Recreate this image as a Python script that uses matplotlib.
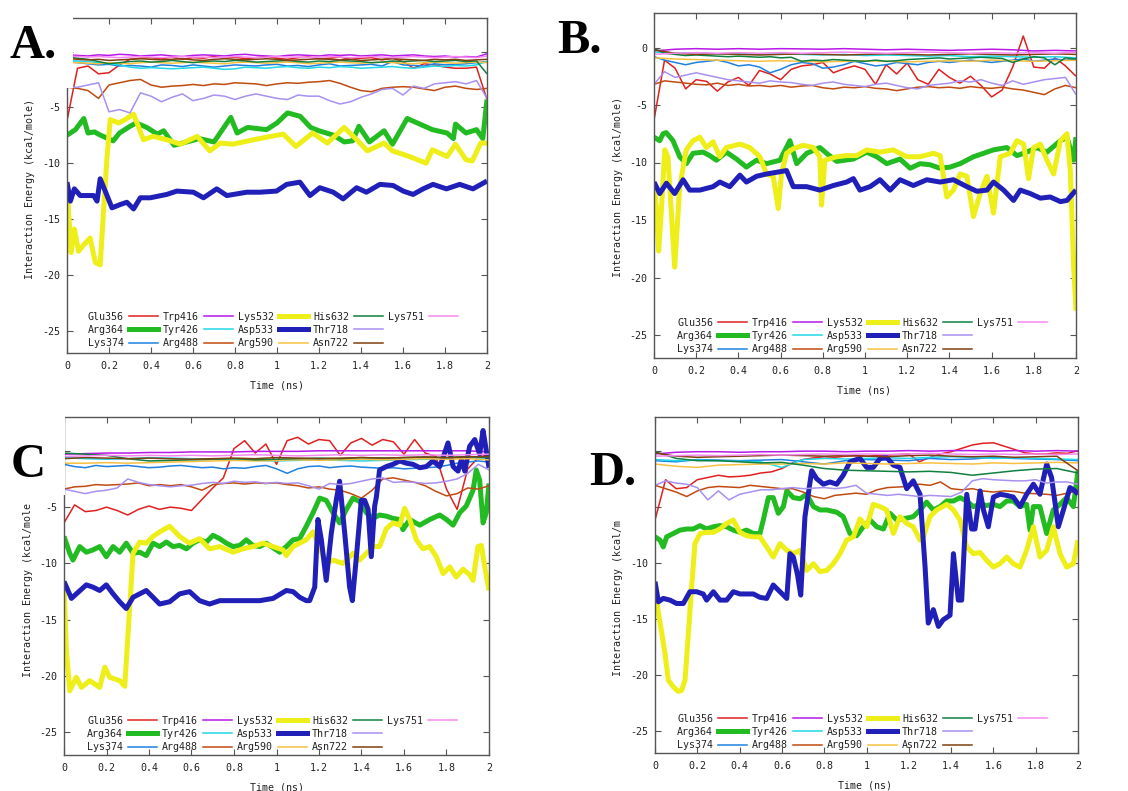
import numpy as np
import matplotlib
matplotlib.use('Agg')
import matplotlib.pyplot as plt
from matplotlib.lines import Line2D
from matplotlib.patches import Rectangle
from matplotlib.ticker import FixedLocator, FormatStrFormatter, FixedFormatter

plt.rcParams['axes.unicode_minus'] = False

# ---------------- series definitions ----------------
residues = ['Glu356', 'Arg364', 'Lys374', 'Trp416', 'Tyr426', 'Arg488', 'Lys532',
            'Asp533', 'Arg590', 'His632', 'Thr718', 'Asn722', 'Lys751']
colors = ['#e02020', '#22bb22', '#2080e0', '#b818e8', '#20d8e8', '#c04a10', '#eeee18',
          '#2020b8', '#f8c040', '#108040', '#a890f0', '#804010', '#f888f0']
thick = ['Arg364', 'Lys532', 'Asp533']

x_ticks = [0, 0.2, 0.4, 0.6, 0.8, 1.0, 1.2, 1.4, 1.6, 1.8, 2.0]
y_ticks = [-25, -20, -15, -10, -5, 0]

# ---------------- Panel A ----------------
A_Glu356 = [-6.2, -1.5, -1.3, -2.0, -1.9, -1.2, -0.7, -0.6, -0.55, -0.65, -0.5, -0.7, -0.55, -0.6, -0.45, -0.6, -0.5, -0.65, -0.55, -0.45, -0.6, -0.7, -0.55, -0.5, -0.65, -0.6, -0.5, -0.7, -0.6, -0.55, -0.75, -0.6, -0.9, -1.5, -1.1, -1.2, -1.4, -1.5, -1.5, -1.4, -4.3]
A_Arg364_t = [0, 0.04, 0.08, 0.10, 0.13, 0.16, 0.22, 0.25, 0.30, 0.33, 0.38, 0.43, 0.46, 0.51, 0.57, 0.63, 0.70, 0.78, 0.81, 0.86, 0.95, 1.00, 1.05, 1.11, 1.16, 1.20, 1.27, 1.32, 1.36, 1.39, 1.44, 1.51, 1.55, 1.62, 1.68, 1.74, 1.81, 1.84, 1.85, 1.90, 1.95, 1.98, 2.0]
A_Arg364 = [-7.5, -7.0, -6.0, -7.3, -7.2, -7.5, -8.0, -7.3, -6.7, -6.4, -6.8, -7.4, -7.1, -8.4, -8.1, -7.8, -8.1, -5.9, -7.3, -6.8, -7.0, -6.4, -5.5, -5.8, -6.8, -7.1, -7.5, -8.1, -8.0, -6.7, -8.1, -7.1, -8.3, -6.0, -6.5, -7.0, -7.3, -7.8, -6.5, -7.3, -7.0, -7.8, -4.3]
A_Lys374 = [-0.9, -1.0, -1.1, -1.2, -1.15, -1.3, -1.25, -1.3, -1.4, -1.2, -1.25, -1.35, -1.2, -1.3, -1.4, -1.3, -1.2, -1.25, -1.3, -1.2, -1.15, -1.3, -1.25, -1.35, -1.2, -1.1, -1.3, -1.25, -1.2, -1.15, -1.3, -0.9, -1.2, -1.25, -1.3, -1.1, -1.2, -1.15, -1.1, -1.0, -0.9]
A_Trp416 = [-0.3, -0.35, -0.4, -0.3, -0.35, -0.25, -0.3, -0.4, -0.35, -0.3, -0.4, -0.45, -0.35, -0.3, -0.35, -0.4, -0.3, -0.25, -0.35, -0.4, -0.45, -0.35, -0.3, -0.35, -0.4, -0.3, -0.35, -0.3, -0.4, -0.35, -0.3, -0.4, -0.35, -0.3, -0.4, -0.45, -0.4, -0.5, -0.45, -0.5, -0.2]
A_Tyr426 = [-0.8, -0.85, -0.9, -1.0, -1.1, -1.2, -1.4, -1.5, -1.45, -1.5, -1.55, -1.5, -1.45, -1.4, -1.5, -1.6, -1.55, -1.4, -1.45, -1.5, -1.4, -1.35, -1.45, -1.5, -1.4, -1.45, -1.35, -1.4, -1.5, -1.45, -1.4, -1.35, -1.45, -1.5, -1.4, -1.3, -1.35, -1.25, -1.3, -1.2, -0.9]
A_Arg488 = [-3.2, -3.3, -3.5, -4.2, -3.0, -2.8, -2.6, -2.5, -3.0, -3.2, -3.1, -3.05, -2.95, -3.05, -2.9, -2.95, -2.8, -2.85, -2.9, -3.05, -2.9, -2.8, -2.85, -2.75, -2.7, -2.6, -2.85, -3.2, -3.5, -3.6, -3.3, -3.2, -3.15, -3.2, -3.35, -3.5, -3.2, -3.1, -3.3, -3.4, -3.3]
A_Lys532_t = [0, 0.019, 0.035, 0.055, 0.08, 0.11, 0.135, 0.158, 0.19, 0.206, 0.246, 0.277, 0.317, 0.364, 0.41, 0.475, 0.54, 0.62, 0.68, 0.73, 0.79, 0.89, 0.97, 1.03, 1.09, 1.17, 1.24, 1.32, 1.38, 1.43, 1.51, 1.55, 1.63, 1.71, 1.74, 1.81, 1.85, 1.90, 1.93, 1.97, 2.0]
A_Lys532 = [-12.0, -18.0, -15.9, -17.9, -17.3, -16.7, -18.9, -19.1, -9.6, -6.1, -6.4, -6.1, -5.6, -7.9, -7.6, -7.9, -8.3, -7.6, -8.9, -8.2, -8.3, -7.9, -7.6, -7.4, -8.5, -7.3, -8.2, -6.8, -7.9, -8.9, -8.2, -8.9, -9.4, -10.0, -8.8, -9.4, -8.3, -9.7, -9.8, -8.2, -8.2]
A_Asp533_t = [0, 0.016, 0.035, 0.063, 0.127, 0.143, 0.158, 0.182, 0.214, 0.254, 0.285, 0.317, 0.349, 0.396, 0.475, 0.523, 0.602, 0.650, 0.713, 0.761, 0.856, 0.919, 0.998, 1.046, 1.109, 1.157, 1.204, 1.268, 1.315, 1.379, 1.426, 1.490, 1.553, 1.601, 1.648, 1.696, 1.743, 1.807, 1.870, 1.933, 2.0]
A_Asp533 = [-11.7, -13.4, -12.3, -12.9, -12.9, -13.4, -11.4, -12.5, -14.0, -13.7, -13.5, -14.1, -13.1, -13.1, -12.8, -12.5, -12.6, -13.1, -12.3, -12.9, -12.6, -12.6, -12.5, -11.9, -11.7, -12.9, -12.2, -12.6, -13.2, -12.2, -12.6, -11.9, -12.0, -12.5, -12.8, -12.3, -11.9, -12.3, -11.9, -12.3, -11.6]
A_Arg590 = [-1.0, -1.0, -1.05, -1.1, -1.0, -1.05, -1.1, -1.0, -0.95, -1.0, -1.05, -1.0, -0.95, -1.0, -1.05, -1.1, -1.0, -0.95, -1.0, -1.05, -1.0, -0.95, -1.0, -1.1, -1.05, -1.0, -0.95, -1.0, -1.05, -1.0, -0.95, -1.0, -1.05, -1.1, -1.0, -0.95, -1.0, -1.05, -1.0, -0.95, -1.0]
A_His632 = [-0.5, -0.6, -0.7, -0.9, -1.1, -1.0, -0.9, -0.85, -0.95, -0.9, -0.8, -0.9, -1.0, -0.9, -0.85, -0.9, -0.8, -0.85, -0.95, -0.9, -0.85, -0.8, -0.9, -0.95, -0.85, -0.9, -0.8, -0.85, -0.9, -1.0, -0.95, -0.85, -0.9, -0.85, -0.8, -0.9, -0.85, -0.8, -0.9, -0.85, -2.0]
A_Thr718 = [-3.2, -3.2, -3.0, -2.8, -5.4, -5.2, -5.5, -3.7, -4.0, -4.5, -4.1, -3.8, -4.4, -4.2, -3.9, -4.0, -4.3, -4.0, -3.8, -4.0, -4.2, -4.3, -3.9, -4.0, -4.0, -4.4, -4.7, -4.5, -4.1, -3.8, -3.4, -3.3, -3.9, -3.1, -3.3, -2.9, -2.8, -2.7, -2.9, -2.6, -4.2]
A_Asn722 = [-0.6, -0.7, -0.75, -0.7, -0.8, -0.75, -0.7, -0.65, -0.7, -0.75, -0.7, -0.65, -0.75, -0.8, -0.7, -0.65, -0.7, -0.75, -0.7, -0.65, -0.7, -0.8, -0.75, -0.7, -0.65, -0.7, -0.75, -0.7, -0.8, -0.75, -0.7, -0.65, -0.7, -0.75, -0.8, -0.7, -0.75, -0.7, -0.8, -0.75, -0.7]
A_Lys751 = [-0.4, -0.45, -0.5, -0.45, -0.5, -0.55, -0.5, -0.45, -0.5, -0.55, -0.5, -0.45, -0.5, -0.5, -0.55, -0.5, -0.45, -0.5, -0.55, -0.5, -0.45, -0.5, -0.5, -0.55, -0.5, -0.45, -0.5, -0.55, -0.5, -0.45, -0.5, -0.55, -0.5, -0.45, -0.5, -0.55, -0.5, -0.45, -0.5, -0.55, -0.4]

# ---------------- Panel B ----------------
B_Glu356 = [-6.3, -1.1, -1.8, -3.6, -2.8, -2.95, -3.8, -3.0, -2.6, -3.3, -2.0, -2.3, -2.8, -1.9, -1.6, -1.5, -1.3, -2.2, -1.85, -1.6, -1.9, -3.2, -1.5, -2.3, -1.35, -2.8, -3.2, -1.9, -2.6, -3.1, -2.5, -3.3, -4.3, -3.7, -1.7, 1.0, -1.7, -1.8, -0.9, -1.6, -2.5]
B_Arg364_t = [0, .027, .043, .058, .090, .122, .153, .185, .233, .264, .296, .343, .391, .438, .486, .533, .597, .644, .676, .724, .786, .818, .866, .945, 1.008, 1.056, 1.103, 1.166, 1.214, 1.261, 1.309, 1.356, 1.403, 1.451, 1.514, 1.562, 1.609, 1.672, 1.720, 1.767, 1.815, 1.862, 1.926, 1.957, 1.989, 2.0]
B_Arg364 = [-7.8, -8.1, -7.5, -7.4, -8.1, -9.5, -10.1, -9.2, -9.1, -9.4, -9.8, -9.1, -9.7, -10.4, -9.8, -10.1, -9.8, -8.1, -10.1, -9.2, -8.7, -9.2, -9.9, -9.7, -9.1, -9.5, -10.1, -9.7, -10.5, -10.1, -10.2, -10.5, -10.4, -10.1, -9.5, -9.2, -8.9, -8.7, -9.4, -9.1, -8.7, -9.1, -8.1, -7.8, -9.8, -7.8]
B_Lys374 = [-0.8, -1.1, -1.3, -1.5, -1.3, -1.2, -1.1, -1.3, -1.6, -1.5, -1.7, -2.2, -1.9, -1.5, -1.3, -1.4, -1.8, -1.7, -1.5, -1.2, -1.4, -1.6, -1.5, -1.3, -1.4, -1.5, -1.3, -1.2, -1.3, -1.2, -1.1, -1.2, -1.3, -1.2, -1.1, -1.0, -1.2, -1.1, -1.0, -1.1, -1.0]
B_Trp416 = [-0.3, -0.15, -0.1, -0.15, -0.1, -0.15, -0.1, -0.12, -0.15, -0.1, -0.15, -0.2, -0.15, -0.2, -0.25, -0.2, -0.15, -0.2, -0.3, -0.25, -0.3]
B_Tyr426 = [-0.4, -0.5, -0.45, -0.55, -0.5, -0.6, -0.55, -0.6, -0.65, -0.6, -0.7, -0.65, -0.7, -0.75, -0.7, -0.8, -0.75, -0.8, -0.85, -0.8, -0.9]
B_Arg488 = [-3.2, -2.9, -3.0, -3.1, -3.2, -3.25, -3.1, -3.3, -3.2, -3.35, -3.3, -3.4, -3.3, -3.45, -3.35, -3.3, -3.5, -3.6, -3.45, -3.5, -3.4, -3.55, -3.6, -3.75, -3.6, -3.45, -3.4, -3.5, -3.45, -3.55, -3.4, -3.5, -3.55, -3.45, -3.6, -3.7, -3.9, -4.1, -3.6, -3.3, -3.5]
B_Lys532_t = [0, .011, .022, .035, .051, .066, .098, .122, .153, .185, .217, .248, .280, .312, .343, .407, .454, .502, .533, .565, .589, .604, .628, .660, .707, .755, .786, .794, .810, .866, .913, .961, 1.008, 1.071, 1.134, 1.198, 1.261, 1.324, 1.356, 1.388, 1.419, 1.451, 1.483, 1.514, 1.546, 1.578, 1.609, 1.641, 1.688, 1.720, 1.752, 1.775, 1.799, 1.831, 1.862, 1.894, 1.926, 1.957, 1.973, 1.989, 2.0]
B_Lys532 = [-12.1, -13.8, -17.7, -14.1, -8.9, -9.5, -19.1, -12.1, -8.9, -8.1, -7.8, -8.7, -8.2, -9.5, -8.7, -8.4, -8.7, -9.5, -11.0, -11.2, -14.0, -11.0, -9.2, -8.8, -8.5, -8.7, -9.5, -13.7, -9.8, -9.5, -9.4, -9.4, -8.9, -9.1, -8.9, -9.5, -9.5, -9.2, -9.4, -13.0, -12.4, -11.0, -11.2, -14.7, -12.7, -11.2, -14.4, -9.5, -9.2, -8.1, -8.4, -11.4, -8.7, -8.4, -9.8, -11.0, -8.1, -7.5, -10.7, -19.0, -22.9]
B_Asp533_t = [0, .027, .059, .098, .138, .169, .217, .280, .312, .359, .407, .438, .486, .533, .597, .628, .660, .723, .786, .850, .913, .945, .976, 1.024, 1.071, 1.119, 1.166, 1.229, 1.293, 1.356, 1.419, 1.483, 1.530, 1.578, 1.609, 1.657, 1.704, 1.736, 1.783, 1.831, 1.878, 1.926, 1.957, 2.0]
B_Asp533 = [-11.7, -12.7, -11.8, -12.7, -11.5, -12.4, -12.4, -12.1, -11.7, -12.1, -11.1, -11.7, -11.2, -11.0, -10.8, -10.7, -12.1, -12.1, -12.4, -12.0, -11.7, -11.4, -12.4, -12.1, -11.5, -12.4, -11.5, -12.0, -11.5, -11.7, -11.5, -12.1, -12.5, -12.4, -11.7, -12.4, -13.3, -12.4, -12.7, -13.1, -13.0, -13.4, -13.3, -12.4]
B_Arg590 = [-0.9, -1.0, -1.05, -1.1, -1.15, -1.2, -1.15, -1.2, -1.25, -1.2, -1.15, -1.2, -1.25, -1.2, -1.15, -1.2, -1.1, -1.15, -1.2, -1.15, -1.1]
B_His632 = [-0.1, -0.5, -0.6, -0.7, -0.65, -0.7, -0.75, -0.8, -0.75, -0.8, -0.85, -0.8, -0.9, -0.85, -1.2, -1.1, -1.15, -1.05, -1.1, -1.15, -1.2, -1.1, -1.2, -1.15, -1.05, -1.0, -0.95, -0.9, -1.0, -0.95, -0.9, -0.85, -0.9, -0.95, -1.3, -1.0, -0.8, -0.9, -1.5, -0.9, -1.0]
B_Thr718 = [-3.2, -2.1, -2.6, -2.4, -2.2, -2.4, -2.6, -2.8, -2.9, -3.0, -3.1, -2.9, -3.0, -3.05, -3.2, -3.3, -3.1, -3.0, -3.2, -3.3, -3.4, -3.2, -3.1, -3.3, -3.5, -3.6, -3.3, -3.2, -3.1, -2.9, -3.0, -2.8, -3.1, -3.3, -2.9, -3.2, -3.0, -2.8, -2.7, -2.6, -4.1]
B_Asn722 = [-0.2, -0.5, -0.6, -0.55, -0.6, -0.65, -0.6, -0.55, -0.6, -0.65, -0.6, -0.55, -0.6, -0.65, -0.6, -0.55, -0.6, -0.65, -0.6, -0.55, -0.6]
B_Lys751 = [-0.6, -0.5, -0.45, -0.5, -0.45, -0.5, -0.45, -0.5, -0.45, -0.4, -0.45, -0.5, -0.45, -0.4, -0.45, -0.5, -0.45, -0.5, -0.45, -0.5, -0.4]

# ---------------- Panel C ----------------
C_Glu356 = [-6.4, -4.8, -5.4, -5.3, -5.0, -5.3, -5.7, -5.2, -4.9, -5.2, -5.0, -5.1, -5.3, -4.3, -3.3, -2.4, 0.2, 0.9, -0.2, 0.6, -1.2, 0.9, 1.2, 0.6, 1.0, 0.9, -0.4, 0.7, 1.1, 0.5, 1.0, 0.8, -0.3, 1.0, -0.2, -0.5, -3.4, -5.2, -1.6, -0.6, -0.3]
C_Arg364_t = [0, .027, .042, .074, .105, .136, .168, .199, .231, .262, .293, .325, .356, .387, .419, .450, .482, .513, .544, .576, .607, .638, .670, .701, .733, .764, .795, .827, .858, .889, .921, .952, 1.015, 1.046, 1.078, 1.109, 1.140, 1.172, 1.203, 1.234, 1.266, 1.297, 1.329, 1.360, 1.391, 1.423, 1.454, 1.485, 1.517, 1.548, 1.580, 1.595, 1.627, 1.674, 1.721, 1.768, 1.800, 1.831, 1.862, 1.893, 1.925, 1.940, 1.956, 1.972, 1.987, 2.0]
C_Arg364 = [-7.6, -9.1, -9.7, -8.5, -9.0, -8.8, -8.5, -9.4, -8.5, -9.0, -8.2, -9.1, -9.0, -9.3, -8.2, -8.5, -8.1, -8.5, -8.4, -8.7, -8.2, -7.9, -8.1, -7.5, -7.8, -8.2, -8.5, -8.4, -7.9, -8.4, -8.5, -8.2, -9.0, -8.5, -7.9, -7.8, -6.7, -5.5, -4.2, -4.4, -5.5, -6.4, -5.2, -4.2, -4.5, -5.5, -6.0, -5.7, -5.8, -6.0, -6.1, -7.0, -6.1, -6.6, -6.1, -5.7, -6.1, -6.6, -5.5, -4.9, -3.5, -1.7, -2.6, -6.4, -5.5, -2.9]
C_Lys374 = [-1.2, -1.4, -1.5, -1.3, -1.4, -1.35, -1.3, -1.4, -1.5, -1.45, -1.35, -1.3, -1.4, -1.5, -1.45, -1.6, -1.5, -1.55, -1.4, -1.3, -1.6, -2.0, -1.6, -1.4, -1.35, -1.5, -1.4, -1.35, -1.45, -1.5, -1.55, -1.5, -1.6, -1.55, -1.5, -1.45, -1.3, -1.1, -1.0, -0.9, -1.0]
C_Trp416 = [-0.3, -0.25, -0.2, -0.2, -0.15, -0.15, -0.1, -0.1, -0.1, -0.05, -0.05, -0.05, 0.0, 0.0, 0.0, 0.0, 0.0, 0.0, 0.0, 0.0, -0.1]
C_Tyr426 = [-0.6, -0.7, -0.75, -0.7, -0.6, -0.65, -0.7, -0.75, -0.8, -0.85, -0.9, -0.85, -0.8, -0.85, -0.9, -0.85, -0.8, -0.75, -0.7, -0.6, -0.7]
C_Arg488 = [-3.4, -3.2, -3.15, -3.0, -3.05, -3.0, -2.95, -2.85, -3.1, -3.0, -3.1, -3.0, -3.2, -3.5, -3.0, -2.9, -2.85, -2.95, -2.85, -2.9, -2.85, -3.0, -3.1, -3.3, -3.2, -3.4, -3.5, -3.8, -4.2, -3.5, -2.5, -2.4, -2.6, -2.8, -3.1, -3.6, -4.0, -3.8, -3.3, -3.4, -3.1]
C_Lys532_t = [0, .011, .027, .058, .082, .121, .168, .192, .215, .262, .286, .325, .356, .387, .419, .450, .497, .544, .591, .638, .685, .733, .795, .842, .889, .936, .984, 1.031, 1.046, 1.078, 1.109, 1.140, 1.172, 1.203, 1.234, 1.266, 1.313, 1.360, 1.391, 1.423, 1.454, 1.485, 1.517, 1.548, 1.580, 1.603, 1.627, 1.658, 1.689, 1.721, 1.752, 1.784, 1.815, 1.846, 1.878, 1.909, 1.925, 1.948, 1.964, 1.980, 2.0]
C_Lys532 = [-11.8, -17.7, -21.3, -20.1, -21.0, -20.4, -21.0, -19.2, -20.1, -20.4, -20.9, -9.1, -8.1, -8.2, -7.6, -7.2, -6.7, -7.6, -8.2, -7.8, -8.7, -8.5, -9.0, -8.7, -8.5, -8.2, -8.5, -8.8, -9.3, -8.5, -8.2, -7.9, -7.2, -8.5, -10.0, -9.7, -10.0, -9.1, -9.7, -9.1, -8.5, -8.5, -6.9, -6.4, -6.6, -5.1, -6.1, -7.9, -8.7, -8.5, -9.4, -10.9, -10.3, -11.2, -10.5, -11.0, -11.5, -8.5, -8.4, -10.3, -12.4]
C_Asp533_t = [0, .035, .058, .105, .136, .168, .199, .231, .262, .293, .325, .356, .387, .419, .450, .497, .544, .591, .638, .685, .733, .795, .858, .921, .984, 1.046, 1.078, 1.109, 1.140, 1.156, 1.180, 1.195, 1.211, 1.234, 1.258, 1.281, 1.297, 1.321, 1.344, 1.357, 1.376, 1.399, 1.415, 1.431, 1.446, 1.462, 1.470, 1.485, 1.517, 1.548, 1.580, 1.611, 1.642, 1.674, 1.705, 1.736, 1.768, 1.784, 1.807, 1.831, 1.854, 1.870, 1.886, 1.909, 1.933, 1.956, 1.972, 1.984, 2.0]
C_Asp533 = [-11.6, -13.1, -12.7, -11.9, -12.1, -12.4, -11.9, -12.7, -13.4, -14.0, -13.0, -12.7, -12.4, -13.0, -13.6, -13.4, -12.7, -12.5, -13.3, -13.6, -13.3, -13.3, -13.3, -13.3, -13.1, -12.4, -12.5, -13.0, -13.3, -13.3, -12.1, -6.1, -7.9, -11.5, -7.3, -4.4, -2.7, -7.3, -12.1, -13.3, -9.4, -4.4, -4.4, -5.2, -9.4, -4.9, -4.1, -1.7, -1.4, -1.2, -0.9, -1.1, -1.2, -1.5, -1.4, -0.9, -1.4, -0.6, 0.7, -1.4, -1.8, -0.8, -1.8, 0.4, 1.0, -0.3, 1.8, 0.4, -1.5]
C_Arg590 = [-1.1, -1.1, -1.05, -1.1, -1.05, -1.0, -0.95, -0.9, -0.85, -0.9, -0.85, -0.8, -0.85, -0.8, -0.75, -0.8, -0.75, -0.7, -0.75, -0.7, -0.8]
C_His632 = [-0.2, -0.3, -0.4, -0.7, -0.9, -0.85, -0.8, -0.75, -0.7, -0.8, -0.75, -0.7, -0.65, -0.7, -0.6, -0.65, -0.6, -0.55, -0.6, -0.5, -0.6]
C_Thr718 = [-3.4, -3.6, -3.8, -3.6, -3.5, -3.3, -2.5, -2.8, -3.0, -3.1, -3.2, -3.1, -3.05, -2.9, -2.8, -2.9, -2.7, -2.8, -2.75, -2.9, -2.8, -2.9, -2.85, -3.1, -3.4, -2.9, -3.0, -2.9, -2.7, -2.5, -2.4, -2.8, -2.75, -2.8, -2.9, -2.85, -2.7, -2.5, -2.0, -1.2, -1.7]
C_Asn722 = [-0.7, -0.6, -0.65, -0.7, -0.65, -0.7, -0.75, -0.7, -0.65, -0.7, -0.6, -0.65, -0.7, -0.65, -0.6, -0.65, -0.6, -0.55, -0.6, -0.55, -0.5]
C_Lys751 = [-0.5, -0.45, -0.4, -0.45, -0.4, -0.45, -0.4, -0.45, -0.4, -0.35, -0.4, -0.45, -0.4, -0.35, -0.4, -0.35, -0.4, -0.35, -0.4, -0.35, -0.3]

# ---------------- Panel D ----------------
D_Glu356 = [-6.2, -2.6, -3.4, -3.3, -2.6, -2.4, -2.2, -2.35, -2.3, -2.2, -2.0, -1.9, -1.6, -1.1, -0.8, -0.65, -0.55, -0.6, -0.5, -0.45, -0.5, -0.45, -0.4, -0.35, -0.3, -1.0, -0.6, -0.3, -0.1, 0.2, 0.5, 0.65, 0.7, 0.4, 0.1, -0.2, -0.3, -0.3, -0.2, -0.25, 0.0]
D_Arg364_t = [0, .024, .039, .055, .087, .118, .150, .181, .213, .244, .276, .307, .339, .370, .402, .433, .465, .496, .512, .536, .559, .583, .607, .623, .654, .686, .717, .749, .780, .812, .859, .890, .922, .953, .985, 1.017, 1.048, 1.080, 1.111, 1.143, 1.174, 1.221, 1.253, 1.284, 1.316, 1.348, 1.379, 1.411, 1.442, 1.474, 1.505, 1.537, 1.568, 1.600, 1.631, 1.663, 1.694, 1.726, 1.757, 1.773, 1.789, 1.820, 1.852, 1.883, 1.915, 1.946, 1.978, 2.0]
D_Arg364 = [-7.7, -8.0, -8.6, -7.7, -7.4, -7.1, -7.0, -7.0, -6.7, -7.0, -6.8, -6.7, -6.8, -7.1, -7.3, -7.1, -7.4, -7.4, -6.2, -4.2, -4.2, -5.6, -5.0, -3.6, -4.2, -4.3, -3.9, -5.0, -5.3, -5.3, -5.5, -5.9, -7.4, -7.6, -6.8, -6.2, -6.8, -7.0, -5.6, -6.2, -6.1, -5.9, -5.3, -4.6, -5.3, -5.0, -4.5, -4.5, -4.2, -4.5, -5.0, -4.8, -4.9, -4.8, -5.0, -4.5, -4.5, -5.0, -4.8, -7.1, -5.0, -5.0, -7.4, -5.3, -4.8, -4.2, -5.0, -1.8]
D_Lys374 = [-0.9, -1.0, -0.8, -0.85, -0.9, -0.85, -0.8, -1.0, -1.2, -0.9, -0.8, -0.85, -0.9, -0.7, -0.8, -0.75, -0.6, -0.7, -0.75, -0.8, -0.9]
D_Trp416 = [-0.3, -0.15, -0.1, -0.1, -0.15, -0.1, -0.1, -0.05, -0.05, -0.1, -0.05, -0.05, 0.0, -0.05, 0.0, 0.0, -0.05, 0.0, -0.05, 0.0, -0.05]
D_Tyr426 = [-0.8, -0.9, -0.85, -0.9, -0.95, -1.0, -1.5, -0.8, -0.7, -0.75, -0.7, -0.65, -0.7, -0.6, -0.55, -0.6, -0.7, -0.65, -0.7, -0.75, -0.8]
D_Arg488 = [-3.1, -3.4, -3.7, -4.1, -3.6, -3.3, -3.2, -3.25, -3.3, -3.1, -3.2, -3.3, -3.4, -3.4, -3.7, -4.1, -4.3, -4.0, -3.9, -3.8, -3.9, -3.5, -3.3, -3.25, -3.2, -3.0, -3.1, -2.8, -3.4, -3.5, -3.4, -3.6, -3.7, -3.6, -3.65, -3.8, -3.85, -3.9, -4.0, -3.8, -3.6]
D_Lys532_t = [0, .016, .032, .047, .063, .087, .110, .126, .142, .158, .173, .189, .213, .244, .276, .307, .339, .370, .402, .433, .465, .496, .528, .559, .591, .623, .654, .686, .717, .749, .780, .812, .843, .875, .906, .938, .969, 1.001, 1.032, 1.064, 1.095, 1.127, 1.158, 1.190, 1.221, 1.253, 1.269, 1.300, 1.332, 1.379, 1.411, 1.442, 1.474, 1.505, 1.537, 1.568, 1.600, 1.631, 1.663, 1.694, 1.726, 1.757, 1.789, 1.820, 1.852, 1.883, 1.915, 1.946, 1.978, 2.0]
D_Lys532 = [-12.2, -14.5, -16.3, -18.1, -20.5, -21.1, -21.5, -21.4, -20.5, -16.3, -12.2, -8.3, -7.4, -7.3, -7.3, -7.0, -6.5, -6.2, -7.3, -7.6, -7.7, -7.7, -8.6, -9.5, -8.3, -8.9, -9.2, -8.9, -10.7, -10.1, -10.8, -10.7, -10.1, -9.2, -8.0, -7.7, -6.1, -6.8, -4.8, -5.0, -5.3, -7.4, -5.9, -6.5, -6.8, -8.0, -7.7, -5.9, -5.3, -4.8, -5.3, -6.2, -8.6, -9.2, -9.1, -9.8, -10.4, -10.1, -9.5, -10.1, -10.4, -8.9, -6.8, -9.5, -8.9, -6.8, -9.2, -10.4, -10.1, -8.0]
D_Asp533_t = [0, .016, .039, .071, .102, .134, .165, .197, .228, .244, .276, .307, .339, .370, .402, .433, .465, .496, .528, .559, .591, .623, .638, .654, .673, .689, .709, .741, .764, .796, .827, .859, .890, .922, .969, 1.001, 1.032, 1.064, 1.095, 1.127, 1.158, 1.190, 1.221, 1.253, 1.277, 1.292, 1.316, 1.340, 1.363, 1.395, 1.411, 1.434, 1.450, 1.474, 1.497, 1.513, 1.537, 1.553, 1.576, 1.600, 1.631, 1.663, 1.694, 1.726, 1.757, 1.789, 1.820, 1.852, 1.875, 1.907, 1.931, 1.962, 1.986, 2.0]
D_Asp533 = [-11.7, -13.5, -13.2, -13.35, -13.65, -13.65, -12.6, -12.6, -12.8, -13.35, -12.6, -13.35, -13.35, -12.6, -12.8, -12.8, -12.8, -13.1, -13.2, -12.0, -12.6, -13.2, -9.2, -9.5, -11.0, -12.9, -5.9, -1.8, -2.5, -3.0, -2.8, -3.0, -2.2, -1.0, -0.7, -1.5, -1.5, -0.7, -0.6, -1.3, -1.5, -3.4, -2.7, -3.9, -10.4, -15.4, -14.2, -15.7, -15.1, -14.7, -9.2, -13.35, -13.35, -3.9, -7.0, -7.0, -3.6, -5.3, -6.8, -4.15, -3.9, -4.0, -4.15, -5.0, -3.9, -3.0, -3.9, -1.2, -2.4, -6.8, -5.3, -3.3, -3.6, -3.9]
D_Arg590 = [-1.2, -1.4, -1.5, -1.3, -1.25, -1.2, -1.2, -1.15, -1.2, -1.1, -1.15, -1.2, -1.15, -1.1, -1.15, -1.2, -1.1, -1.15, -1.1, -1.05, -1.1]
D_His632 = [-0.1, -0.7, -0.9, -0.9, -1.0, -1.1, -1.05, -1.3, -1.6, -1.75, -1.8, -1.85, -1.9, -1.85, -1.95, -2.2, -2.0, -1.8, -1.65, -1.6, -2.0]
D_Thr718 = [-3.1, -2.7, -2.9, -3.0, -3.3, -4.4, -3.6, -4.4, -3.9, -3.7, -3.5, -3.5, -3.4, -3.3, -3.4, -3.35, -3.3, -3.4, -3.3, -3.1, -3.8, -3.9, -4.0, -3.9, -4.0, -4.1, -4.0, -4.05, -4.1, -3.7, -2.7, -2.5, -2.6, -2.65, -2.7, -2.7, -2.6, -2.9, -2.8, -2.8, -3.0]
D_Asn722 = [-0.2, -0.5, -0.6, -0.55, -0.5, -0.45, -0.4, -0.45, -0.5, -0.45, -0.5, -0.55, -0.45, -0.4, -0.5, -0.55, -0.5, -0.6, -0.55, -0.5, -1.8]
D_Lys751 = [-0.5, -0.45, -0.4, -0.45, -0.4, -0.35, -0.4, -0.35, -0.3, -0.35, -0.3, -0.35, -0.3, -0.25, -0.3, -0.35, -0.3, -0.35, -0.3, -0.35, -0.3]


def grid(v):
    return np.linspace(0, 2, len(v))


def pair(t, v):
    n = min(len(t), len(v))
    return np.asarray(t[:n], float), np.asarray(v[:n], float)


def panel_series(g, p):
    out = []
    for r in residues:
        v = g[p + '_' + r]
        t = g.get(p + '_' + r + '_t', None)
        if t is None:
            t = grid(v)
        out.append(pair(t, v))
    return out


G = globals()
# y tick labels that are hidden behind the panel-letter boxes in the reference
panels = {
    'A': dict(rect=(67, 18, 487, 353), ylabel='Interaction Energy (kcal/mole)',
              ylab_xy=(30, 189), xlab_xy=(277, 385), leg=(88, 348), hide=[0]),
    'B': dict(rect=(654, 13, 1076, 358), ylabel='Interaction Energy (kcal/mole)',
              ylab_xy=(618, 187), xlab_xy=(864, 391), leg=(677, 354), hide=[]),
    'C': dict(rect=(64, 417, 489, 755), ylabel='Interaction Energy (kcal/mole',
              ylab_xy=(28, 590), xlab_xy=(277, 787), leg=(87, 752), hide=[0]),
    'D': dict(rect=(655, 417, 1078, 753), ylabel='Interaction Energy (kcal/m',
              ylab_xy=(618, 598), xlab_xy=(865, 786), leg=(677, 750), hide=[0, -5]),
}

W, H = 1128, 791
fig = plt.figure(figsize=(W / 100, H / 100), dpi=100)
fig.patch.set_facecolor('white')

MONO = 'DejaVu Sans Mono'
FS = 7.2
spine_col = '#555555'
text_col = '#222222'


def fx(px):
    return px / W


def fy(py):
    return 1 - py / H


for key, cfg in panels.items():
    l, t, r, b = cfg['rect']
    ax = fig.add_axes([fx(l), fy(b), (r - l) / W, (b - t) / H])
    series = panel_series(G, key)
    handles = []
    for name, col, (tt, vv) in zip(residues, colors, series):
        lw = 3.6 if name in thick else 1.1
        ax.plot(tt, vv, color=col, lw=lw, solid_joinstyle='round', solid_capstyle='butt')
        handles.append(Line2D([], [], color=col, lw=lw))
    ax.set_xlim(0, 2)
    ax.set_ylim(-27, 3)
    ax.xaxis.set_major_locator(FixedLocator(x_ticks))
    ax.yaxis.set_major_locator(FixedLocator(y_ticks))
    ax.xaxis.set_major_formatter(FormatStrFormatter('%g'))
    ylabs = ['' if v in cfg['hide'] else '%g' % v for v in y_ticks]
    ax.yaxis.set_major_formatter(FixedFormatter(ylabs))
    ax.tick_params(direction='in', length=4, width=0.8, colors=spine_col,
                   top=True, right=True, labelsize=FS, labelcolor=text_col)
    ax.tick_params(axis='x', pad=6)
    ax.tick_params(axis='y', pad=5)
    for lab in ax.get_xticklabels() + ax.get_yticklabels():
        lab.set_family(MONO)
    for s in ax.spines.values():
        s.set_color(spine_col)
        s.set_linewidth(1.0)

    # gnuplot-style key: 3 rows x 5 columns, text before sample
    blank = Line2D([], [], color='none', lw=0)
    hl = handles + [blank, blank]
    ll = residues + ['', '']
    lx, ly = cfg['leg']
    leg = ax.legend(hl, ll, ncol=5, loc='lower left',
                    bbox_to_anchor=((lx - l) / (r - l), (b - ly) / (b - t)),
                    frameon=False, markerfirst=False, handlelength=2.9,
                    handletextpad=0.5, columnspacing=0.5, labelspacing=0.32,
                    borderpad=0, borderaxespad=0,
                    prop={'family': MONO, 'size': FS})
    for txt in leg.get_texts():
        txt.set_color(text_col)

    xl, yl = cfg['ylab_xy']
    fig.text(fx(xl), fy(yl), cfg['ylabel'], rotation=90, ha='center', va='center',
             family=MONO, fontsize=FS, color=text_col)
    xx, xy = cfg['xlab_xy']
    fig.text(fx(xx), fy(xy), 'Time (ns)', ha='center', va='center',
             family=MONO, fontsize=FS, color=text_col)

# white label boxes (covering parts of the screenshots) and panel letters
boxes = [(0, 0, 73, 88), (0, 400, 64.8, 495), (572, 400, 651, 512)]
for (x0, y0, x1, y1) in boxes:
    fig.add_artist(Rectangle((fx(x0), fy(y1)), (x1 - x0) / W, (y1 - y0) / H,
                             transform=fig.transFigure, facecolor='white',
                             edgecolor='none', zorder=5))

labels = [('A.', 10, 58), ('B.', 557, 53), ('C', 11, 477), ('D.', 589, 485)]
for txt, x, y in labels:
    fig.text(fx(x), fy(y), txt, ha='left', va='baseline', family='Liberation Serif',
             fontweight='bold', fontsize=35, color='black', zorder=6)

fig.savefig('out.png', dpi=100, facecolor='white')
